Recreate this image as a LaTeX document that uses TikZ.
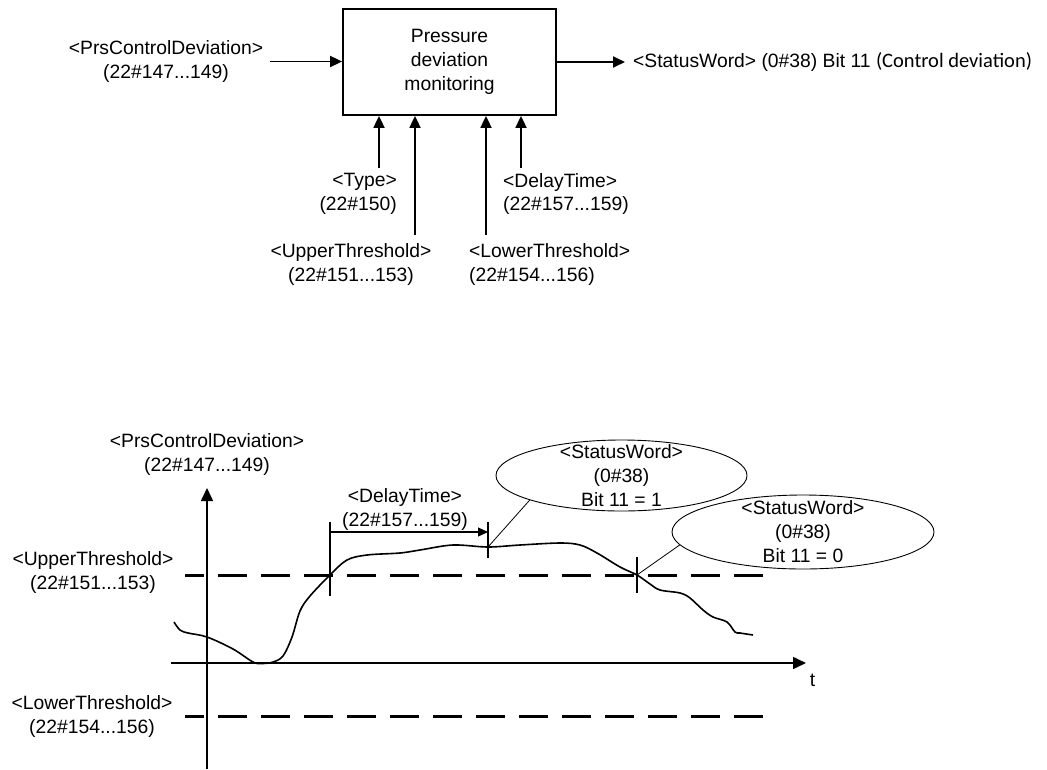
\documentclass[tikz,border=0pt]{standalone}
\usepackage{fontspec}
\setmainfont{Liberation Sans}
\newfontfamily\calibrifont{Carlito}
\usepackage{tikz}
\usetikzlibrary{arrows.meta}
\usetikzlibrary{shapes.geometric}
\tikzset{>=latex}

\begin{document}
\begin{tikzpicture}[x=1pt, y=-1pt,
    lbl/.style={inner sep=0pt, align=center, font=\fontsize{19.3}{24}\selectfont},
    sig/.style={-{Triangle[length=12pt, width=11pt]}, line width=1.8pt},
    axis/.style={-{Triangle[length=13pt, width=12pt]}, line width=1.6pt},
    thresh/.style={line width=3pt, dash pattern=on 29pt off 14pt, dash phase=10pt},
    bubble/.style={ellipse, draw, line width=0.9pt, inner sep=0pt},
    callout/.style={line width=0.8pt},
    marker/.style={line width=1.8pt}]

\useasboundingbox (0,0) rectangle (1047,769);

% ---------------------------------------------------------------------------
% Block diagram
% ---------------------------------------------------------------------------
\node[draw, line width=1.8pt, minimum width=213pt, minimum height=106pt, lbl]
    (mon) at (449.5,62) {Pressure\\deviation\\monitoring};

\node[lbl] (pcdin) at (166,61.5) {<PrsControlDeviation>\\(22\#147...149)};
\draw[sig, shorten <=7pt] (pcdin.east) -- (pcdin.east -| mon.west);

\node[lbl, anchor=west] (swout) at (633,62)
    {<StatusWord> (0\#38) Bit 11 {\calibrifont\fontsize{20.5}{24}\selectfont (Control deviation)}};
\draw[sig, shorten >=8pt] (mon.east) -- (swout.west -| mon.east) -- (swout.west);

% Parameter inputs from below
\foreach \nm/\px/\py in {type/379/168, upper/415/235, lower/486/235, delay/521/168} {
    \coordinate (in\nm) at (\px,\py);
    \draw[sig] (in\nm) -- (in\nm |- mon.south);
}

\node[lbl, align=right, anchor=east] (typelbl) at (397,194) {<Type>\\(22\#150)};
\node[lbl, align=left, anchor=west] (delaylbl) at (503,194) {<DelayTime>\\(22\#157...159)};
\node[lbl] (upperlbl) at (351,264.5) {<UpperThreshold>\\(22\#151...153)};
\node[lbl, align=left, anchor=west] (lowerlbl) at (469,264.5) {<LowerThreshold>\\(22\#154...156)};

% ===========================================================================
%  TIME DIAGRAM
% ===========================================================================
\coordinate (yfoot) at (207,769);
\coordinate (ytip) at (207,488);
\coordinate (xstart) at (171,663);
\coordinate (xtip) at (806,663);
\draw[axis] (yfoot) -- (ytip);
\draw[axis] (xstart) -- (xtip);

\node[lbl] (tlbl) at (812.5,680) {t};
\node[lbl] (pcdax) at (207,454.5) {<PrsControlDeviation>\\(22\#147...149)};
\node[lbl] (upperax) at (93,572.5) {<UpperThreshold>\\(22\#151...153)};
\node[lbl] (lowerax) at (92,716) {<LowerThreshold>\\(22\#154...156)};

% Threshold levels
\draw[thresh] (185,575) -- (773,575);
\draw[thresh] (185,716) -- (773,716);

% Pressure deviation signal
\draw[line width=1.6pt] plot[smooth, tension=0.55] coordinates {
    (174,622) (180,630) (188,633) (207,637) (233,649) (253,662) (262,663.5)
    (273,662) (283,656) (292,637) (300,611) (310,596) (330,575) (347,560)
    (367,555) (400,553) (420,550) (453,545) (488,547) (520,545) (560,543)
    (580,545) (597,553) (620,567) (637,575) (650,584) (660,590) (680,593)
    (690,598) (703,610) (713,617) (727,622) (735,632) (740,633) (753,635)};

% Event markers
\foreach \tx/\ta/\tb in {330/522/596, 488/522/558, 637/557/593} {
    \draw[marker] (\tx,\ta) -- (\tx,\tb);
}
\coordinate (setpt) at (488,547);
\coordinate (resetpt) at (637,575);

% Delay time
\coordinate (dstart) at (330,532);
\coordinate (dend) at (488,532);
\draw[-{Triangle[length=10pt, width=9pt]}, line width=1.2pt] (dstart) -- (dend);
\node[lbl] (delayax) at (405,509) {<DelayTime>\\(22\#157...159)};

% Status bubbles
\node[bubble, minimum width=251pt, minimum height=71pt] (sw1) at (621.5,475.5) {};
\node[lbl] (sw1txt) at (sw1.center) {<StatusWord>\\(0\#38)\\Bit 11 = 1};
\node[bubble, minimum width=262pt, minimum height=74pt] (sw2) at (803,532) {};
\node[lbl] (sw2txt) at (sw2.center) {<StatusWord>\\(0\#38)\\Bit 11 = 0};

\draw[callout] (setpt) -- (sw1.195);
\draw[callout] (resetpt) -- (sw2.186);

\end{tikzpicture}
\end{document}
